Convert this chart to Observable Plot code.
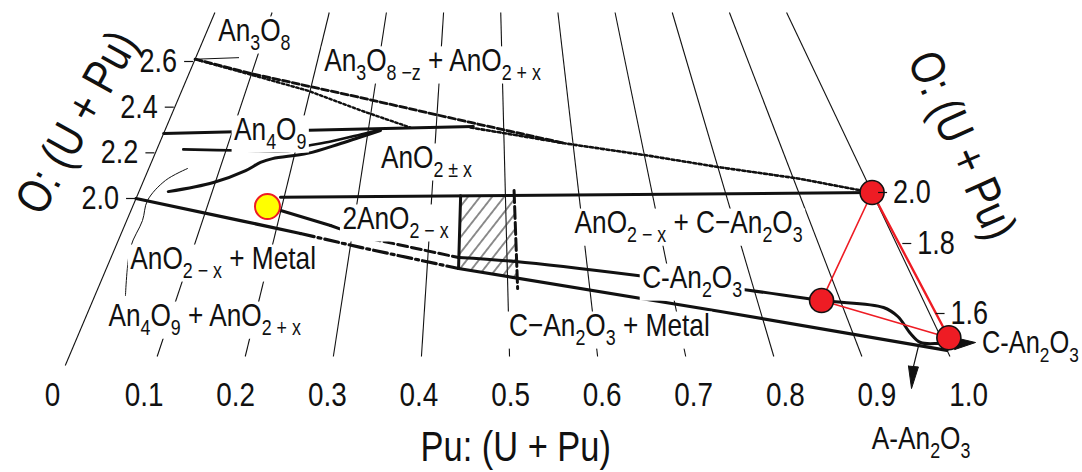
<!DOCTYPE html>
<html>
<head>
<meta charset="utf-8">
<title>U–Pu–O phase diagram</title>
<script src="https://cdn.jsdelivr.net/npm/d3@7"></script>
<script src="https://cdn.jsdelivr.net/npm/@observablehq/plot@0.6"></script>
<style>
  html, body { margin: 0; padding: 0; background: #fff; }
  #chart svg { display: block; }
</style>
</head>
<body>
<div id="chart"></div>
<script>
// ---------- axes ----------
const puTicks = [0, 0.1, 0.2, 0.3, 0.4, 0.5, 0.6, 0.7, 0.8, 0.9, 1.0];
const puTickLabels = ["0", "0.1", "0.2", "0.3", "0.4", "0.5", "0.6", "0.7", "0.8", "0.9", "1.0"];
const oTicksLeft = [2.0, 2.2, 2.4, 2.6];
const oTickLabelsLeft = ["2.0", "2.2", "2.4", "2.6"];
const oTicksRight = [2.0, 1.8, 1.6];
const oTickLabelsRight = ["2.0", "1.8", "1.6"];

// ---------- phase boundaries, as [Pu/(U+Pu), O/(U+Pu)] ----------
const an3o8Tie = [[0, 2.61], [0.07, 2.61]];
const dashedUpper = [[0, 2.61], [0.098, 2.539], [0.280, 2.421], [0.451, 2.305], [0.589, 2.211]];
const dottedUpper = [[0, 2.61], [0.0986, 2.534], [0.196, 2.457], [0.284, 2.366], [0.362, 2.289]];
const dottedLimit = [[0.451, 2.284], [0.589, 2.211], [0.704, 2.157], [0.804, 2.105], [0.906, 2.058], [1.0, 2.0]];
const an4o9Line = [[0, 2.285], [0.455, 2.288]];
const an4o9Lower = [[0.038, 2.213], [0.121, 2.204], [0.197, 2.200], [0.206, 2.213], [0.248, 2.236], [0.290, 2.264], [0.318, 2.283]];
const an4o9Edge = [[0.040, 2.029], [0.0975, 2.067], [0.137, 2.117], [0.1545, 2.151], [0.170, 2.167], [0.218, 2.187], [0.263, 2.227], [0.318, 2.279]];
const thinArc = [[0.0544, 2.129], [0.0301, 2.078], [0.0166, 1.991], [0.0208, 1.903], [0.0194, 1.786], [0.037, 1.579]];
const stoichLine = [[0.195, 2.0], [1.0, 2.0]];
const metalSolidA = [[0, 2.0], [0.150, 1.901], [0.2327, 1.8448]];
const metalDashDot = [[0.2327, 1.8448], [0.3132, 1.787], [0.4392, 1.7126]];
const metalSolidB = [[0.4392, 1.7126], [0.7524, 1.587], [1.0, 1.485]];
const hypoSolid = [[0.1807, 1.961], [0.2698, 1.8785]];
const hypoDashed = [[0.2698, 1.8785], [0.3111, 1.8315], [0.4388, 1.7516]];
const cubicUpper = [[0.4388, 1.7516], [0.5106, 1.739], [0.6609, 1.697], [0.7953, 1.656], [0.8774, 1.630],
                    [0.9484, 1.6139], [0.9608, 1.5876], [0.9668, 1.5344], [0.9737, 1.5067], [0.9962, 1.5059], [1.0124, 1.5075]];
const cubicArrowHead = [[1.0124, 1.5075], [1.0371, 1.513]];
const hexShaft = [[0.970, 1.4969], [0.9536, 1.4286]];
const hexArrowHead = [[0.9536, 1.4286], [0.941, 1.357]];
const twoPhaseLeft = [[0.4392, 2.0], [0.4392, 1.7126]];
const twoPhaseRight = [[0.512, 2.02], [0.512, 1.646]];
const twoPhaseArea = [[0.4392, 2.0], [0.512, 2.0], [0.512, 1.6834], [0.4392, 1.7126], [0.4392, 2.0]];

// ---------- marked compositions ----------
const redPoints = [[1.0, 2.0], [0.8774, 1.630], [1.009, 1.525]];
const yellowPoint = [[0.1807, 1.961]];

// ---------- region names ----------
const regionNames = ["An_{3}O_{8}", "An_{3}O_{8 −z} + AnO_{2 + x}", "An_{4}O_{9}", "AnO_{2 ± x}", "2AnO_{2 − x}",
  "AnO_{2 − x} + C−An_{2}O_{3}", "C-An_{2}O_{3}", "AnO_{2 − x} + Metal", "An_{4}O_{9} + AnO_{2 + x}",
  "C−An_{2}O_{3} + Metal", "A-An_{2}O_{3}"];
const regionPu = [0.080, 0.387, 0.155, 0.389, 0.354, 0.740, 0.728, 0.142, 0.140, 0.618, 0.929];
const regionO = [2.727, 2.569, 2.293, 2.162, 1.907, 1.885, 1.693, 1.741, 1.507, 1.526, 1.196];
const sideName = "C-An_{2}O_{3}";
const sidePu = 1.044, sideO = 1.511;

const titleO = "O: (U + Pu)";
const titlePu = "Pu: (U + Pu)";

// ---------- oblique projection of the composition plane ----------
// Lines of constant Pu fraction meet at a vanishing point above the diagram;
// the O/M scale comes from the two side axes, blended across the width.
const vanishing = [484, -624];
const baseRow = 355;
const puBase = d3.scaleLinear([0, 1], [69, 949]);
const oLeft = d3.scaleLinear([2.0, 2.6], [198, 61]);
const oRight = d3.scaleLinear([1.5, 1.6, 1.8, 2.0, 2.6], [345, 313, 243, 192, 39]);
const puLineX = (p, y) => vanishing[0] + (puBase(p) - vanishing[0]) * (y - vanishing[1]) / (baseRow - vanishing[1]);
function project(p, o) {
  const y = oLeft(o) * (1 - p) + oRight(o) * p;
  return [puLineX(p, y), y];
}
const pts = arr => arr.map(([p, o]) => project(p, o));

const W = 1082, H = 472;
const ink = "#111";
const red = "#ee1c24";
const font = "'Liberation Sans Narrow', 'Arial Narrow', 'Liberation Sans', Arial, sans-serif";
const narrow = 0.82;   // horizontal condensing of all lettering
const gridTop = 12, gridBottom = 356, gridBottomZero = 365, tickRow = 395;

const path = (arr, opts = {}) =>
  Plot.line(pts(arr), {x: d => d[0], y: d => d[1], stroke: ink, strokeWidth: 3, ...opts});

function arrowHead(seg, halfWidth) {
  const [b, t] = pts(seg);
  const dx = t[0] - b[0], dy = t[1] - b[1], len = Math.hypot(dx, dy);
  const nx = -dy / len * halfWidth, ny = dx / len * halfWidth;
  return [[b[0] + nx, b[1] + ny], t, [b[0] - nx, b[1] - ny], [b[0] + nx, b[1] + ny]];
}

const regions = regionNames.map((text, i) => ({text, xy: project(regionPu[i], regionO[i])}));
const leftTicks = oTicksLeft.map((o, i) => ({label: oTickLabelsLeft[i], xy: project(0, o)}));
const rightTicks = oTicksRight.map((o, i) => ({label: oTickLabelsRight[i], xy: project(1, o)}));
const bottomTicks = puTicks.map((p, i) => ({label: puTickLabels[i], x: puLineX(p, tickRow)}));

const svg = Plot.plot({
  width: W,
  height: H,
  margin: 0,
  x: {domain: [0, W], range: [0, W], axis: null},
  y: {domain: [0, H], range: [0, H], axis: null},
  style: {fontFamily: font, background: "#fff", color: ink},
  marks: [
    // lines of constant Pu fraction
    Plot.link(puTicks, {
      x1: p => puLineX(p, p === 0 ? gridBottomZero : gridBottom),
      y1: p => (p === 0 ? gridBottomZero : gridBottom),
      x2: p => puLineX(p, gridTop),
      y2: () => gridTop,
      stroke: ink, strokeWidth: 1.1
    }),
    // two-phase band near Pu/(U+Pu) = 0.45–0.5
    Plot.line(pts(twoPhaseArea), {x: d => d[0], y: d => d[1], fill: "url(#hatch)", stroke: "none"}),
    path(twoPhaseLeft, {strokeWidth: 3}),
    path(twoPhaseRight, {strokeWidth: 3, strokeDasharray: "12,4"}),
    // hyperstoichiometric side
    path(an3o8Tie, {strokeWidth: 1}),
    path(dashedUpper, {strokeWidth: 2.8, strokeDasharray: "7,3"}),
    path(dottedUpper, {strokeWidth: 2.4, strokeDasharray: "2.5,2.5"}),
    path(dottedLimit, {strokeWidth: 2.6, strokeDasharray: "3,2.5"}),
    path(an4o9Line, {strokeWidth: 3}),
    path(an4o9Lower, {strokeWidth: 2.6, curve: "catmull-rom"}),
    path(an4o9Edge, {strokeWidth: 3, curve: "catmull-rom"}),
    path(thinArc, {strokeWidth: 1, curve: "catmull-rom"}),
    // stoichiometric line and hypostoichiometric boundaries
    path(stoichLine, {strokeWidth: 3}),
    path(metalSolidA, {strokeWidth: 3.2}),
    path(metalDashDot, {strokeWidth: 3.2, strokeDasharray: "14,4,3,4"}),
    path(metalSolidB, {strokeWidth: 3.2}),
    path(hypoSolid, {strokeWidth: 3}),
    path(hypoDashed, {strokeWidth: 3, strokeDasharray: "10,4"}),
    path(cubicUpper, {strokeWidth: 3, curve: "catmull-rom"}),
    path(hexShaft, {strokeWidth: 1.2}),
    Plot.line(arrowHead(cubicArrowHead, 6), {x: d => d[0], y: d => d[1], fill: ink, stroke: ink, strokeWidth: 1}),
    Plot.line(arrowHead(hexArrowHead, 5), {x: d => d[0], y: d => d[1], fill: ink, stroke: ink, strokeWidth: 1}),
    // region names (on white boxes, added below)
    Plot.text(regions, {x: d => d.xy[0], y: d => d.xy[1], text: d => d.text, fontSize: 32, fill: ink,
      textAnchor: "middle", ariaDescription: "region"}),
    Plot.text([sideName], {x: () => project(sidePu, sideO)[0], y: () => project(sidePu, sideO)[1], text: d => d,
      fontSize: 31, fill: ink, textAnchor: "start"}),
    // marked compositions
    Plot.line(pts([redPoints[0], redPoints[1], redPoints[2]]), {x: d => d[0], y: d => d[1], stroke: red, strokeWidth: 1.6}),
    Plot.line(pts([redPoints[0], redPoints[2]]), {x: d => d[0], y: d => d[1], stroke: red, strokeWidth: 2.4}),
    Plot.dot(pts(redPoints), {x: d => d[0], y: d => d[1], r: 12, fill: red, stroke: ink, strokeWidth: 1.6}),
    Plot.dot(pts(yellowPoint), {x: d => d[0], y: d => d[1], r: 12.5, fill: "#ffff00", stroke: red, strokeWidth: 2}),
    // O/(U+Pu) ticks, left and right
    Plot.link(leftTicks, {x1: d => d.xy[0] - 10, x2: d => d.xy[0] - 1, y1: d => d.xy[1], y2: d => d.xy[1], stroke: ink, strokeWidth: 1.2}),
    Plot.text(leftTicks, {x: d => d.xy[0] - 17, y: d => d.xy[1], text: "label", textAnchor: "end", fontSize: 33, fill: ink}),
    Plot.link(rightTicks, {x1: d => d.xy[0] + 6, x2: d => d.xy[0] + 15, y1: d => d.xy[1], y2: d => d.xy[1], stroke: ink, strokeWidth: 1.2}),
    Plot.text(rightTicks, {x: d => d.xy[0] + 21, y: d => d.xy[1], text: "label", textAnchor: "start", fontSize: 33, fill: ink}),
    // Pu/(U+Pu) tick labels along the extension of each Pu line
    Plot.text(bottomTicks, {x: "x", y: () => tickRow, text: "label", textAnchor: "middle", fontSize: 34, fill: ink}),
    // axis titles
    Plot.text([titleO], {x: () => project(-0.136, 2.342)[0], y: () => project(-0.136, 2.342)[1], text: d => d,
      rotate: -61, fontSize: 48, fill: ink, textAnchor: "middle"}),
    Plot.text([titleO], {x: () => project(1.162, 2.178)[0], y: () => project(1.162, 2.178)[1], text: d => d,
      rotate: 66, fontSize: 48, fill: ink, textAnchor: "middle"}),
    Plot.text([titlePu], {x: () => project(0.504, 1.069)[0], y: () => project(0.504, 1.069)[1], text: d => d,
      fontSize: 42, fill: ink, textAnchor: "middle"})
  ]
});

// hatch pattern for the two-phase band
const defs = d3.select(svg).insert("defs", ":first-child");
const pattern = defs.append("pattern")
  .attr("id", "hatch")
  .attr("patternUnits", "userSpaceOnUse")
  .attr("width", 9.5).attr("height", 10)
  .attr("patternTransform", "rotate(38)");
pattern.append("line")
  .attr("x1", 4.75).attr("y1", 0).attr("x2", 4.75).attr("y2", 10)
  .attr("stroke", "#333").attr("stroke-width", 1.1);

// chemical subscripts written as _{...}
function setSubscripts(root) {
  const ns = "http://www.w3.org/2000/svg";
  root.querySelectorAll("text").forEach(node => {
    const s = node.textContent;
    if (!s.includes("_{")) return;
    while (node.firstChild) node.removeChild(node.firstChild);
    let lowered = false;
    for (const part of s.split(/(_\{[^}]*\})/)) {
      if (!part) continue;
      const span = document.createElementNS(ns, "tspan");
      const m = /^_\{([^}]*)\}$/.exec(part);
      if (m) {
        span.textContent = m[1];
        span.setAttribute("font-size", "68%");
        if (!lowered) span.setAttribute("dy", "0.43em");
        lowered = true;
      } else {
        span.textContent = part;
        if (lowered) span.setAttribute("dy", "-0.29em");
        lowered = false;
      }
      node.appendChild(span);
    }
  });
}

// condensed lettering: squeeze every label along its own baseline
function condense(root, k) {
  root.querySelectorAll("text").forEach(t => {
    const x = +t.getAttribute("x") || 0, y = +t.getAttribute("y") || 0;
    const tr = t.getAttribute("transform") || "";
    t.setAttribute("transform", `${tr} translate(${x},${y}) scale(${k},1) translate(${-x},${-y})`.trim());
  });
}

// white boxes behind region names, interrupting the lines they sit on
function boxRegions(root) {
  const ns = "http://www.w3.org/2000/svg";
  root.querySelectorAll('g[aria-description="region"] text').forEach(t => {
    const fs = parseFloat(getComputedStyle(t).fontSize) || 32;
    const bb = t.getBBox();
    const rect = document.createElementNS(ns, "rect");
    rect.setAttribute("x", bb.x - 3);
    rect.setAttribute("y", bb.y + 0.13 * fs);
    rect.setAttribute("width", bb.width + 6);
    rect.setAttribute("height", Math.max(0, bb.height - 0.16 * fs));
    rect.setAttribute("fill", "#fff");
    rect.setAttribute("stroke", "none");
    const tr = t.getAttribute("transform");
    if (tr) rect.setAttribute("transform", tr);
    t.parentNode.insertBefore(rect, t);
  });
}

setSubscripts(svg);
document.getElementById("chart").appendChild(svg);
condense(svg, narrow);
boxRegions(svg);
</script>
</body>
</html>
